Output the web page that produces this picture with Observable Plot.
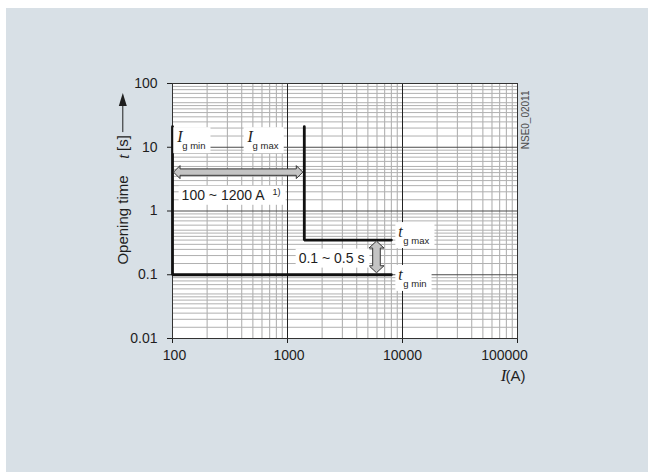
<!DOCTYPE html>
<html><head><meta charset="utf-8">
<script src="https://cdn.jsdelivr.net/npm/d3@7"></script>
<script src="https://cdn.jsdelivr.net/npm/@observablehq/plot@0.6"></script>
<style>
html,body{margin:0;padding:0;background:#fff;}
#panel{position:absolute;left:6px;top:8px;width:642px;height:464px;background:#d8e0e6;overflow:hidden;}
svg{display:block}
</style></head><body><div id="panel"></div>
<script>
// ---- data ----
const currentTicks = [100, 1000, 10000, 100000];
const currentTickLabels = ["100", "1000", "10000", "100000"];
const timeTicks = [0.01, 0.1, 1, 10, 100];
const timeTickLabels = ["0.01", "0.1", "1", "10", "100"];
const currentMinorSteps = [2, 3, 4, 5, 6, 7, 8, 9];
const timeMinorSteps = [1.5, 2, 2.5, 3, 3.5, 4, 4.5, 5, 6, 7, 8, 9];

const igMinCurveI = [100, 100, 8000];
const igMinCurveT = [21, 0.1, 0.1];
const igMaxCurveI = [1400, 1400, 8000];
const igMaxCurveT = [21, 0.35, 0.35];

const currentRangeI = [100, 1400];
const currentRangeT = 4;
const timeRangeI = 6000;
const timeRangeT = [0.35, 0.1];

const labelKeys = ["igmin", "igmax", "irange", "trange", "tgmax", "tgmin"];
const labelMain = ["I", "I", "100 ~ 1200 A", "0.1 ~ 0.5 s", "t", "t"];
const labelSub = ["g min", "g max", "", "", "g max", "g min"];
const labelSup = ["", "", "1)", "", "", ""];
const labelI = [110, 450, 120, 1250, 9200, 9200];
const labelT = [12, 12, 1.5, 0.155, 0.39, 0.083];

const yTitleMain = "Opening time";
const yTitleSymbol = "t";
const yTitleUnit = "[s]";
const xTitleSymbol = "I";
const xTitleUnit = "(A)";
const drawingCode = "NSE0_02011";

// ---- build ----
const SANS = "Liberation Sans, Arial, sans-serif";
const SERIF = "Liberation Serif, Times New Roman, serif";
const INK = "#1e1e1e";

const currentMinor = currentTicks.slice(0, -1).flatMap(d => currentMinorSteps.map(m => d * m));
const timeMinor = timeTicks.slice(0, -1).flatMap(d => timeMinorSteps.map(m => d * m));
const toRows = (xs, ys) => xs.map((x, i) => ({I: x, T: ys[i]}));
const labels = labelKeys.map((k, i) => ({key: k, main: labelMain[i], sub: labelSub[i], sup: labelSup[i], I: labelI[i], T: labelT[i]}));

const labelMarks = labels.flatMap(d => {
  const cls = "lbl-" + d.key;
  const sym = d.sub !== "";
  const m = [Plot.text([d], {x: "I", y: "T", text: "main", textAnchor: "start", lineAnchor: "bottom", fill: INK,
    fontFamily: sym ? SERIF : SANS, fontStyle: sym ? "italic" : "normal", fontSize: sym ? 16 : 14, className: cls})];
  if (sym) m.push(Plot.text([d], {x: "I", y: "T", text: "sub", textAnchor: "start", lineAnchor: "bottom", fill: INK,
    fontFamily: SANS, fontSize: 9.5, dx: 5, dy: 7, className: cls}));
  if (d.sup) m.push(Plot.text([d], {x: "I", y: "T", text: "sup", textAnchor: "start", lineAnchor: "bottom", fill: INK,
    fontFamily: SANS, fontSize: 9, dx: 91, dy: -5, className: cls}));
  return m;
});

const fig = Plot.plot({
  width: 642, height: 464,
  marginLeft: 166, marginRight: 131, marginTop: 75, marginBottom: 134,
  style: {background: "transparent", fontFamily: SANS, fontSize: "14px", color: INK},
  x: {type: "log", domain: [100, 100000], ticks: currentTicks,
      tickFormat: d => currentTickLabels[currentTicks.indexOf(d)], tickSize: 5, tickPadding: 7, label: null},
  y: {type: "log", domain: [0.01, 100], ticks: timeTicks,
      tickFormat: d => timeTickLabels[timeTicks.indexOf(d)], tickSize: 5, tickPadding: 10, label: null},
  marks: [
    Plot.frame({fill: "white"}),
    Plot.ruleX(currentMinor, {stroke: "#aaaaaa", strokeWidth: 1}),
    Plot.ruleY(timeMinor, {stroke: "#b0b0b0", strokeWidth: 1}),
    Plot.ruleX(currentTicks, {stroke: "#222", strokeWidth: 1}),
    Plot.ruleY(timeTicks, {stroke: "#4a4a4a", strokeWidth: 1.2}),
    Plot.frame({stroke: "#333"}),
    Plot.line(toRows(igMinCurveI, igMinCurveT), {x: "I", y: "T", stroke: "#111", strokeWidth: 2.8, strokeLinejoin: "miter"}),
    Plot.line(toRows(igMaxCurveI, igMaxCurveT), {x: "I", y: "T", stroke: "#111", strokeWidth: 2.8, strokeLinejoin: "miter"}),
    ...labelMarks,
    Plot.text([yTitleMain], {frameAnchor: "left", rotate: -90, textAnchor: "middle", lineAnchor: "middle", fontSize: 15, fill: INK, dx: -49, dy: 9}),
    Plot.text([yTitleSymbol], {frameAnchor: "left", rotate: -90, textAnchor: "middle", lineAnchor: "middle", fontSize: 16, fontFamily: SERIF, fontStyle: "italic", fill: INK, dx: -49, dy: -54.5}),
    Plot.text([yTitleUnit], {frameAnchor: "left", rotate: -90, textAnchor: "middle", lineAnchor: "middle", fontSize: 15, fill: INK, dx: -49, dy: -68, className: "yunit"}),
    Plot.text([xTitleUnit], {frameAnchor: "bottom-right", textAnchor: "end", lineAnchor: "bottom", fontSize: 15, fill: INK, dx: 8, dy: 42}),
    Plot.text([xTitleSymbol], {frameAnchor: "bottom-right", textAnchor: "end", lineAnchor: "bottom", fontSize: 17, fontFamily: SERIF, fontStyle: "italic", fill: INK, dx: -11, dy: 42}),
    Plot.text([drawingCode], {frameAnchor: "top-right", rotate: -90, textAnchor: "end", lineAnchor: "middle", fontSize: 10, fill: "#4a4a4a", dx: 8, dy: 7})
  ]
});
document.getElementById("panel").append(fig);

// ---- decorations positioned through the plot's own scales ----
const sx = fig.scale("x"), sy = fig.scale("y");
const X = d3.scaleLog(sx.domain, sx.range);
const Y = d3.scaleLog(sy.domain, sy.range);
const svg = d3.select(fig);

// nudge x tick labels as in the original (last one pulled inside)
const xLabelNudge = {"100": 2, "1000": 1.5, "10000": 0, "100000": -13};
fig.querySelectorAll('g[aria-label="x-axis tick label"] text').forEach(t => {
  const n = xLabelNudge[t.textContent.trim()];
  if (n) t.setAttribute("transform", `translate(${n},0) ` + (t.getAttribute("transform") || ""));
});

function blockArrow(x1, y1, x2, y2, hw, hh, hl) {
  const L = Math.hypot(x2 - x1, y2 - y1), ux = (x2 - x1) / L, uy = (y2 - y1) / L, px = -uy, py = ux;
  const P = (x, y, a, b) => [x + ux * a + px * b, y + uy * a + py * b];
  return [
    [x1, y1], P(x1, y1, hl, hh), P(x1, y1, hl, hw), P(x2, y2, -hl, hw), P(x2, y2, -hl, hh),
    [x2, y2], P(x2, y2, -hl, -hh), P(x2, y2, -hl, -hw), P(x1, y1, hl, -hw), P(x1, y1, hl, -hh)
  ];
}
const firstLabel = fig.querySelector(".lbl-igmin");
const arrowG = document.createElementNS("http://www.w3.org/2000/svg", "g");
fig.insertBefore(arrowG, firstLabel);
const ag = d3.select(arrowG);
ag.append("polygon")
  .attr("points", blockArrow(X(currentRangeI[0]) + 1.5, Y(currentRangeT), X(currentRangeI[1]) - 1, Y(currentRangeT), 3.2, 6.5, 6.5).join(" "))
  .attr("fill", "#c4c4c4").attr("stroke", "#333").attr("stroke-width", 1);
ag.append("polygon")
  .attr("points", blockArrow(X(timeRangeI), Y(timeRangeT[0]) + 1.5, X(timeRangeI), Y(timeRangeT[1]) - 1.5, 3.8, 7.5, 7).join(" "))
  .attr("fill", "#c4c4c4").attr("stroke", "#333").attr("stroke-width", 1);

// white boxes behind labels
const svgRect = fig.getBoundingClientRect();
const pad = {l: 3, r: 5, t: 1, b: 2};
labels.forEach(d => {
  const groups = fig.querySelectorAll(".lbl-" + d.key);
  let x0 = Infinity, y0 = Infinity, x1 = -Infinity, y1 = -Infinity;
  groups.forEach(g => g.querySelectorAll("text").forEach(t => {
    const r = t.getBoundingClientRect();
    x0 = Math.min(x0, r.left); y0 = Math.min(y0, r.top); x1 = Math.max(x1, r.right); y1 = Math.max(y1, r.bottom);
  }));
  const rect = document.createElementNS("http://www.w3.org/2000/svg", "rect");
  rect.setAttribute("x", x0 - svgRect.left - pad.l);
  rect.setAttribute("y", y0 - svgRect.top - pad.t);
  rect.setAttribute("width", x1 - x0 + pad.l + pad.r);
  rect.setAttribute("height", y1 - y0 + pad.t + pad.b);
  rect.setAttribute("fill", "white");
  fig.insertBefore(rect, groups[0]);
});

// y-title arrow, starting just above the unit text
const unitR = fig.querySelector(".yunit text").getBoundingClientRect();
const ax = (unitR.left + unitR.right) / 2 - svgRect.left;
const aBottom = unitR.top - svgRect.top - 3;
const aTip = sy.range[1] + 10;
svg.append("line").attr("x1", ax).attr("x2", ax).attr("y1", aBottom).attr("y2", aTip + 10)
  .attr("stroke", INK).attr("stroke-width", 1);
svg.append("path").attr("d", `M${ax},${aTip}L${ax - 4},${aTip + 13}L${ax + 4},${aTip + 13}Z`).attr("fill", INK);
</script>
</body></html>
